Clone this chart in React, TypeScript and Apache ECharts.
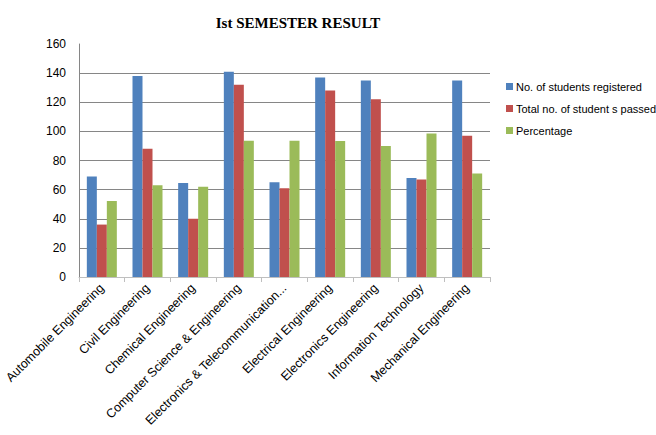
import React, { useEffect, useRef } from "react";
import * as echarts from "echarts";

const categories = [
  "Automobile Engineering",
  "Civil Engineering",
  "Chemical Engineering",
  "Computer Science & Engineering",
  "Electronics & Telecommunication Engineering",
  "Electrical Engineering",
  "Electronics Engineering",
  "Information Technology",
  "Mechanical Engineering",
];
const registered = [69, 138, 64.5, 141, 65, 137, 135, 68, 135];
const passed = [36, 88, 40, 132, 61, 128, 122, 67, 97];
const percentage = [52.2, 63, 62, 93.6, 93.6, 93.4, 90, 98.5, 71];
const seriesNames = [
  "No. of students registered",
  "Total no. of student s passed",
  "Percentage",
];
const colors = ["#4F81BD", "#C0504D", "#9BBB59"];

export default function App() {
  const ref = useRef<HTMLDivElement>(null);
  useEffect(() => {
    if (!ref.current) return;
    const chart = echarts.init(ref.current, null, { renderer: "svg" });
    const font = "Liberation Sans";
    const gridColors = ["#868686", "#868686", "#868686", "#868686", "#868686", "#868686", "#868686", "#868686", "transparent"];
    chart.setOption({
      animation: false,
      backgroundColor: "#ffffff",
      title: {
        text: "Ist SEMESTER RESULT",
        left: 293,
        top: 10,
        textAlign: "center",
        textStyle: { fontFamily: "Liberation Serif", fontSize: 15, fontWeight: "bold", color: "#000" },
      },
      legend: {
        orient: "vertical",
        left: 501,
        top: 76,
        itemWidth: 7,
        itemHeight: 7,
        itemGap: 11,
        icon: "rect",
        textStyle: { fontFamily: font, fontSize: 11, color: "#000", padding: [0, 0, 0, -2] },
        data: seriesNames,
      },
      grid: { left: 79, right: 166, top: 44, bottom: 158, containLabel: false },
      xAxis: {
        type: "category",
        data: categories,
        axisLine: { show: true, lineStyle: { color: "#BFBFBF" } },
        axisTick: { show: true, length: 5, lineStyle: { color: "#BFBFBF" } },
        axisLabel: {
          rotate: 45,
          interval: 0,
          margin: 9,
          fontFamily: font,
          fontSize: 12.5,
          color: "#000",
          formatter: (v: string) => (v.length > 32 ? v.slice(0, 31) + "..." : v),
        },
      },
      yAxis: {
        type: "value",
        min: 0,
        max: 160,
        interval: 20,
        axisLine: { show: true, lineStyle: { color: "#868686" } },
        axisTick: { show: false },
        axisLabel: { fontFamily: font, fontSize: 12, color: "#000", margin: 13 },
        splitLine: { show: true, lineStyle: { color: gridColors, width: 1 } },
      },
      series: [registered, passed, percentage].map((d, i) => ({
        name: seriesNames[i],
        type: "bar",
        data: d,
        barWidth: 10,
        barGap: "0%",
        itemStyle: { color: colors[i] },
      })),
    });
    return () => chart.dispose();
  }, []);
  return <div ref={ref} style={{ position: "fixed", left: 0, top: 0, width: 656, height: 435 }} />;
}
